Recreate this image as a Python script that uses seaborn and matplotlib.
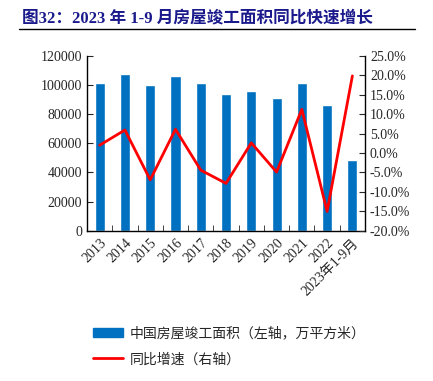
import numpy as np
import pandas as pd
import seaborn as sns
import matplotlib.pyplot as plt
from matplotlib.patches import Patch
from matplotlib.lines import Line2D

# data
years = ['2013', '2014', '2015', '2016', '2017', '2018', '2019', '2020', '2021', '2022', '2023年1-9月']
area = [101435, 107459, 100039, 106128, 101486, 93550, 95942, 91218, 101412, 86222, 48705]  # 万平方米
yoy = [2.0, 5.9, -6.9, 6.1, -4.4, -7.8, 2.6, -4.9, 11.2, -15.0, 19.8]  # %

bar_color = '#0070C0'
line_color = '#FF0000'

sns.set_style('ticks')
plt.rcParams['font.family'] = ['Liberation Serif', 'Noto Sans CJK SC', 'DejaVu Sans']
plt.rcParams['axes.unicode_minus'] = False

df = pd.DataFrame({'year': years, 'area': area, 'yoy': yoy})

fig = plt.figure(figsize=(4.33, 3.81), dpi=100)
ax = fig.add_axes([0.201, 0.394, 0.642, 0.460])

sns.barplot(data=df, x='year', y='area', color=bar_color, width=0.4,
            saturation=1, ax=ax)
ax.set_ylim(0, 120000)
ax.set_yticks(np.arange(0, 120001, 20000))
ax.set_xlim(-0.5, len(years) - 0.5)
ax.set_xlabel('')
ax.set_ylabel('')

ax2 = ax.twinx()
sns.lineplot(x=np.arange(len(years)), y=df['yoy'], color=line_color, linewidth=2, ax=ax2)
ax2.set_ylim(-20, 25)
ax2.set_yticks(np.arange(-20, 25.1, 5))
ax2.set_yticklabels([f'{v:.1f}%' for v in np.arange(-20, 25.1, 5)])
ax2.set_ylabel('')

# ticks between categories on the x axis
ax.set_xticks(np.arange(len(years)))
ax.set_xticklabels(years, rotation=45, ha='right', rotation_mode='anchor', fontsize=10)
ax.set_xticks(np.arange(-0.5, len(years), 1), minor=True)
ax.tick_params(axis='x', which='major', length=0, pad=4)
ax.tick_params(axis='x', which='minor', length=4, direction='in')
ax.tick_params(axis='y', direction='in', length=4, labelsize=10)
ax2.tick_params(axis='y', direction='in', length=4, labelsize=10)

for a in (ax, ax2):
    a.spines['top'].set_visible(False)
    for s in ('left', 'right', 'bottom'):
        a.spines[s].set_linewidth(1)
        a.spines[s].set_color('black')
ax.spines['right'].set_visible(False)
ax2.spines['left'].set_visible(False)
ax2.spines['bottom'].set_visible(False)

# title and rule under it
fig.text(0.051, 0.952, '图32：2023 年 1-9 月房屋竣工面积同比快速增长', fontsize=12,
         fontweight='bold', color='#1A1A8C', va='center', ha='left',
         family=['Liberation Serif', 'Noto Sans CJK SC'])
fig.add_artist(Line2D([0.044, 0.958], [0.923, 0.923], color='black', linewidth=1))

handles = [Patch(facecolor=bar_color, edgecolor=bar_color),
           Line2D([0], [0], color=line_color, linewidth=2)]
labels = ['中国房屋竣工面积（左轴，万平方米）', '同比增速（右轴）']
leg = fig.legend(handles, labels, loc='upper left', bbox_to_anchor=(0.185, 0.176),
                 frameon=False, handlelength=2.2, handleheight=0.7,
                 labelspacing=0.85, handletextpad=0.45,
                 prop={'family': ['Noto Sans CJK SC'], 'size': 10})

fig.savefig('out.png', dpi=100)
